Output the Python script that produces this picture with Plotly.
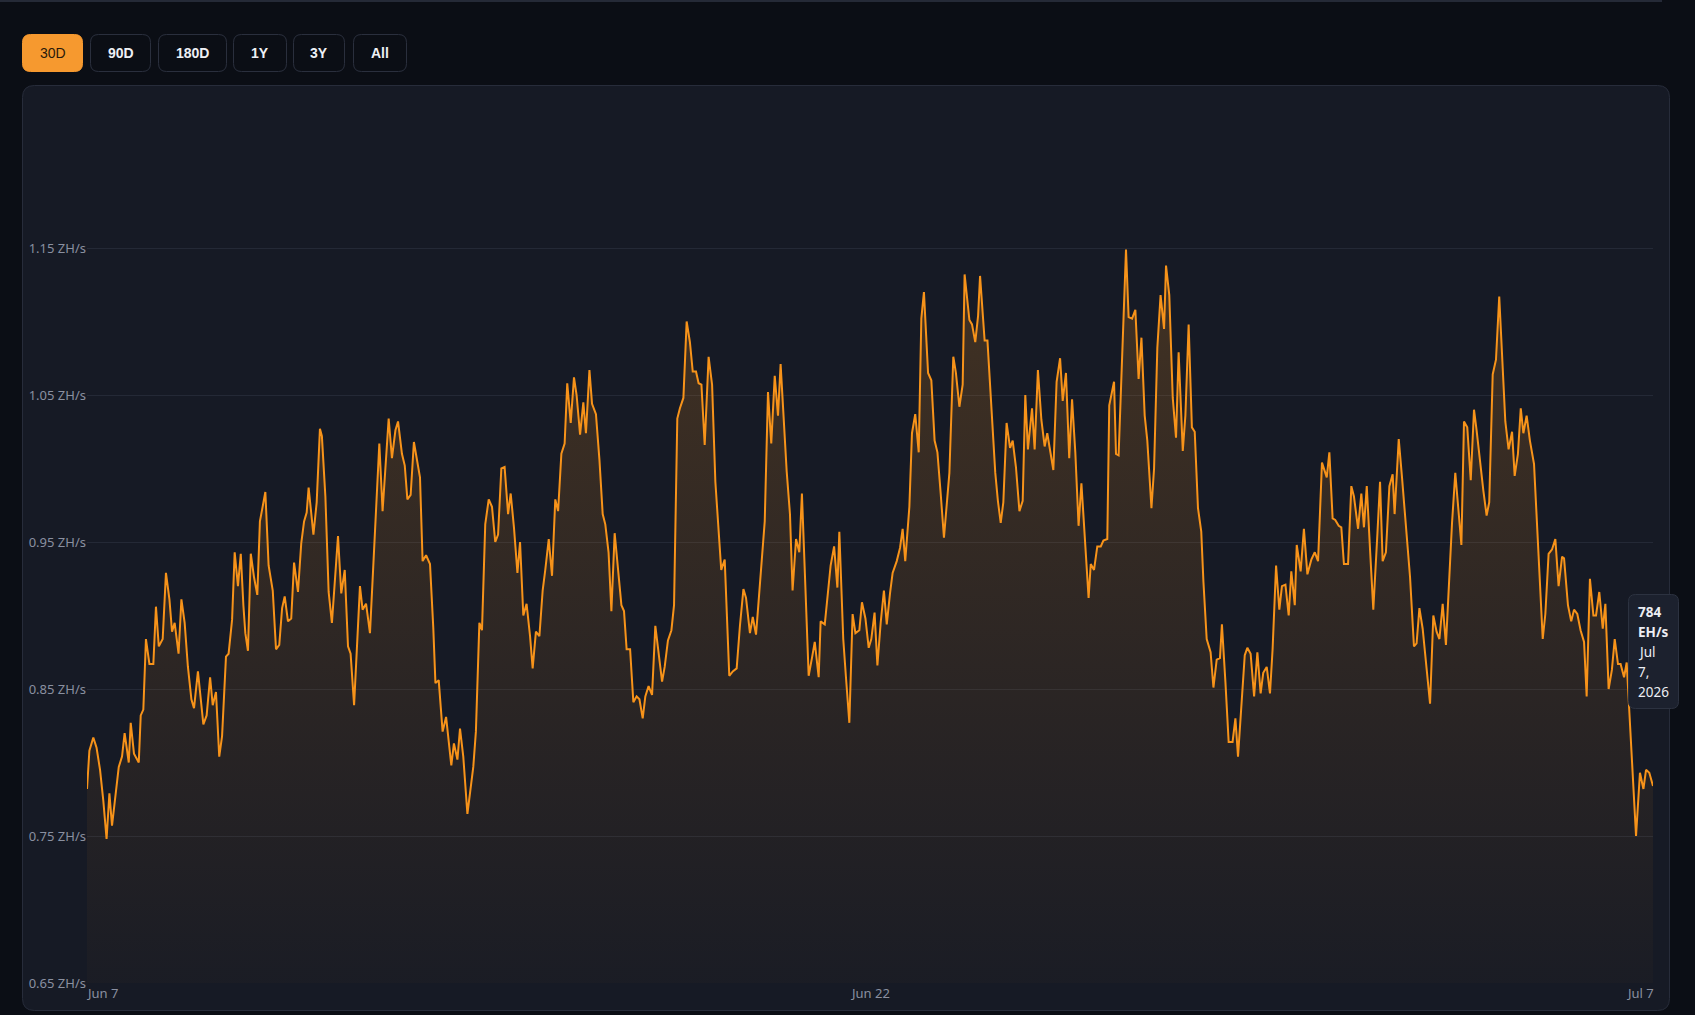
import plotly.graph_objects as go
import pandas as pd

# ---------------- data ----------------
START_DATE = "2026-06-07"

hours_since_start = [
    0.0, 1.1, 2.9, 4.4, 6.0, 7.5, 9.0, 10.3, 11.5, 13.0,
    14.6, 16.1, 17.3, 19.2, 20.1, 21.6, 23.8, 24.7, 25.9, 27.1,
    28.7, 30.5, 31.7, 33.0, 34.8, 36.3, 37.9, 39.1, 40.3, 42.1,
    43.4, 44.9, 46.4, 48.0, 49.2, 51.0, 53.5, 55.0, 56.6, 57.8,
    59.3, 60.8, 62.1, 63.9, 65.1, 66.7, 67.9, 69.4, 70.7, 71.9,
    72.8, 74.0, 75.3, 76.8, 78.3, 79.5, 80.8, 82.0, 83.5, 85.4,
    86.9, 88.4, 89.7, 90.9, 92.4, 93.9, 95.2, 97.0, 98.5, 99.8,
    101.0, 101.9, 104.1, 105.6, 107.1, 108.0, 109.6, 111.1, 112.6, 113.9,
    115.4, 116.9, 118.5, 120.0, 121.2, 122.8, 124.3, 125.5, 126.7, 128.3,
    130.1, 131.7, 133.2, 134.4, 135.9, 138.7, 140.2, 141.8, 143.0, 144.8,
    146.1, 147.3, 148.8, 150.3, 153.1, 154.3, 155.9, 157.7, 159.2, 160.2,
    161.7, 163.5, 165.1, 167.5, 168.7, 170.3, 171.5, 173.0, 174.9,
    177.6, 178.8, 180.4, 181.6, 183.1, 184.7, 186.2, 187.7, 189.0, 190.5,
    192.0, 193.6, 194.8, 196.3, 197.9, 199.1, 200.6, 202.1, 203.7, 204.9,
    206.4, 208.0, 209.5, 210.7, 212.3, 213.8, 215.3, 216.6, 218.1, 219.6,
    220.8, 222.4, 223.9, 225.1, 226.7, 228.2, 229.4, 231.0, 232.2, 234.0,
    235.6, 237.1, 238.3, 239.8, 241.1, 242.6, 244.1, 245.7, 246.9, 248.1,
    249.7, 251.2, 252.7, 254.0, 255.5, 256.7, 258.2, 259.8, 261.3, 262.8,
    264.4, 265.6, 267.1, 268.7, 269.9, 271.4, 272.6, 274.2, 275.7, 277.2,
    278.5, 280.0, 281.2, 282.5, 284.0, 285.8, 287.4, 288.9, 290.4, 291.6,
    293.2, 295.3, 296.9, 298.7, 300.2, 301.8, 303.0, 304.8, 306.1, 307.6,
    308.8, 310.4, 311.6, 313.1, 314.6, 316.2, 317.7, 318.9, 320.5, 321.7,
    323.2, 324.4, 326.0, 327.5, 328.7, 330.3, 331.8, 333.3, 334.6, 336.4,
    337.3, 339.2, 340.7, 341.9, 343.5, 345.0, 345.9, 347.7, 349.0, 350.5,
    352.0, 353.3, 355.1, 356.3, 357.9, 359.4, 360.6, 362.1, 363.4, 364.9,
    366.4, 367.7, 369.2, 370.4, 372.3, 373.8, 375.0, 376.2, 378.1, 379.3,
    380.8, 382.4, 383.6, 384.8, 386.7, 388.2, 389.7, 391.0, 392.5, 394.0,
    396.5, 398.3, 399.5, 401.1, 402.6, 403.5, 405.7, 406.9, 408.4, 409.7,
    410.6, 412.7, 414.0, 415.2, 417.6, 418.8, 420.1, 421.3, 422.8,
    424.4, 425.6, 427.1, 428.7, 430.2, 431.4, 432.6, 434.5, 435.7, 437.2,
    438.8, 440.3, 441.5, 442.5,
    444.3, 445.8, 447.4, 448.6, 450.1, 451.6, 452.9, 454.4, 455.9, 457.2,
    460.5, 461.5, 463.0, 464.5, 466.1, 467.3, 469.1, 470.0, 472.2, 473.1,
    474.3, 477.7, 478.9, 480.5, 482.0, 483.5, 484.8, 486.3, 487.5, 489.4,
    490.6, 492.1, 493.6, 495.2, 496.1, 497.6, 499.2, 500.7, 501.9, 503.8,
    505.0, 506.5, 508.0, 509.3, 510.8, 512.3, 513.3, 514.8, 516.6, 517.9,
    519.4, 520.9, 521.8, 523.4, 524.9,
    526.7, 528.0, 529.2, 530.7, 532.3, 533.5, 535.0, 536.6, 538.1, 539.6,
    540.8, 542.4, 543.9, 545.1, 546.7, 548.2, 549.4, 551.0, 552.5, 553.7,
    555.3, 556.2, 558.0, 559.5, 561.1, 562.9, 564.5, 566.0, 567.8, 570.0,
    571.2, 572.7, 573.9, 575.5, 576.7, 577.9, 579.8, 581.3, 582.5, 584.4,
    585.9, 587.1, 588.4, 589.9, 591.4, 593.3, 594.5, 595.7, 597.2, 598.8,
    600.3, 601.2, 603.1, 604.6, 606.4, 608.3, 610.1, 611.3, 612.6, 614.1,
    615.9, 617.5,
    619.0, 620.5, 621.8, 623.3, 624.8, 626.4, 627.6, 629.1, 630.7, 631.9,
    633.1, 634.6, 636.2, 637.7, 638.9, 640.5, 642.0, 643.5, 644.7, 646.3,
    647.8, 649.3, 650.9, 652.1, 653.6, 655.2, 656.4, 657.9, 659.2, 660.4,
    661.9, 663.4, 665.3, 666.5, 668.0, 669.3, 670.5, 672.0, 673.6, 675.1,
    676.6, 678.2, 679.1, 680.9, 682.4, 683.7, 685.2, 686.7, 688.3, 689.5,
    691.0, 692.6, 693.8, 695.3, 696.9, 698.1, 699.6, 701.1, 702.4, 703.9,
    705.1, 706.7, 707.9, 712.2, 714.0, 715.6, 716.8, 718.3, 720.0,
]

hashrate_eh = [
    782, 808, 817, 810, 795, 774, 748, 779, 757, 777,
    797, 804, 820, 800, 827, 806, 800, 832, 836, 884,
    867, 867, 906, 879, 884, 929, 911, 889, 895, 874,
    911, 895, 865, 843, 837, 862, 826, 832, 858, 839,
    848, 804, 818, 872, 874, 897, 943, 920, 942, 907,
    888, 876, 942, 926, 914, 964, 976, 984, 934, 917,
    877, 880, 905, 913, 896, 898, 936, 916, 949, 964,
    970, 987, 955, 977, 1027, 1022, 981, 916, 895, 920,
    954, 915, 931, 879, 874, 839, 879, 920, 904, 908,
    888, 938, 988, 1017, 971, 1034, 1007, 1026, 1032, 1010,
    1002, 979, 982, 1018, 994, 937, 941, 935, 892, 854,
    856, 821, 831, 798, 813, 802, 823, 804, 765,
    797, 821, 895, 890, 962, 979, 974, 950, 955, 1000,
    1001, 969, 983, 960, 929, 950, 900, 908, 886, 864,
    889, 886, 917, 931, 952, 927, 979, 971, 1010, 1017,
    1058, 1031, 1062, 1050, 1023, 1045, 1024, 1067, 1044, 1037,
    1006, 969, 962, 943, 903, 956, 931, 907, 903, 877,
    877, 841, 845, 843, 830, 845, 852, 846, 893, 874,
    855, 865, 883, 890, 907, 1034, 1041, 1048, 1100, 1086,
    1066, 1066, 1058, 1057, 1016, 1076, 1057, 991, 957, 931,
    938, 859, 862, 864, 893, 918, 912, 888, 899, 887,
    910, 938, 964, 1052, 1017, 1063, 1036, 1071, 1025, 998,
    969, 917, 952, 943, 983, 914, 859, 871, 882, 858,
    896, 894, 915, 934, 947, 919, 957, 884, 857, 827,
    901, 888, 890, 909, 898, 878, 884, 902, 866, 895,
    917, 894, 915, 929, 937, 946, 959, 937, 974, 1024,
    1037, 1011, 1102, 1120, 1065, 1060, 1019, 1011, 983, 953,
    997, 1076, 1065, 1042, 1057, 1132, 1101, 1098, 1086, 1104,
    1131, 1087, 1087, 1056, 997, 978, 963, 977, 1031,
    1014, 1019, 1001, 971, 978, 1050, 1013, 1041, 1013, 1067,
    1033, 1015, 1024, 1016,
    999, 1059, 1075, 1046, 1065, 1007, 1047, 1011, 961, 990,
    912, 935, 931, 947, 947, 951, 952, 1043, 1059, 1010,
    1009, 1149, 1103, 1102, 1108, 1061, 1089, 1036, 1019, 973,
    1000, 1082, 1118, 1095, 1138, 1118, 1048, 1021, 1079, 1012,
    1036, 1098, 1028, 1025, 973, 957, 923, 884, 875, 851,
    870, 871, 894, 855, 814,
    814, 830, 804, 840, 873, 878, 874, 845, 875, 847,
    861, 865, 847, 877, 934, 904, 920, 921, 900, 930,
    907, 948, 930, 959, 928, 938, 943, 937, 1004, 994,
    1011, 966, 965, 961, 960, 935, 935, 988, 981, 959,
    983, 960, 988, 945, 904, 956, 991, 937, 943, 988,
    996, 969, 1020, 994, 958, 926, 879, 881, 905, 891,
    864, 840,
    900, 889, 884, 908, 880, 931, 963, 997, 972, 948,
    1032, 1028, 992, 1040, 1026, 1003, 985, 968, 977, 1064,
    1074, 1117, 1069, 1032, 1013, 1025, 995, 1010, 1041, 1024,
    1036, 1019, 1003, 965, 924, 884, 901, 942, 945, 952,
    920, 940, 939, 907, 896, 904, 901, 890, 882, 845,
    925, 900, 900, 916, 891, 908, 850, 863, 884, 867,
    867, 858, 868, 750, 793, 782, 795, 793, 784,
]

y_ticks_zh = [0.65, 0.75, 0.85, 0.95, 1.05, 1.15]
x_tick_dates = ["2026-06-07", "2026-06-22", "2026-07-07"]
x_tick_labels = ["Jun 7", "Jun 22", "Jul 7"]
range_labels = ["30D", "90D", "180D", "1Y", "3Y", "All"]
active_range = "30D"

# ---------------- derived series ----------------
times = pd.Timestamp(START_DATE) + pd.to_timedelta(hours_since_start, unit="h")
hashrate_zh = [v / 1000.0 for v in hashrate_eh]

# ---------------- geometry helpers (pixels -> paper) ----------------
W, H = 1695, 1015
L, R, T, B = 87, 1653, 101, 983
PW, PH = R - L, B - T

ORANGE = "#f7931a"
TEXT_MUTED = "#8a90a0"
FONT = "Noto Sans, Open Sans, sans-serif"


def fx(px):
    return (px - L) / PW


def fy(py):
    return (B - py) / PH


def rrect(x0, y0, x1, y1, r):
    return (
        f"M{fx(x0 + r)},{fy(y0)} L{fx(x1 - r)},{fy(y0)} "
        f"Q{fx(x1)},{fy(y0)} {fx(x1)},{fy(y0 + r)} "
        f"L{fx(x1)},{fy(y1 - r)} Q{fx(x1)},{fy(y1)} {fx(x1 - r)},{fy(y1)} "
        f"L{fx(x0 + r)},{fy(y1)} Q{fx(x0)},{fy(y1)} {fx(x0)},{fy(y1 - r)} "
        f"L{fx(x0)},{fy(y0 + r)} Q{fx(x0)},{fy(y0)} {fx(x0 + r)},{fy(y0)} Z"
    )


fig = go.Figure()
fig.add_trace(
    go.Scatter(
        x=times,
        y=hashrate_zh,
        mode="lines",
        line=dict(color=ORANGE, width=2),
        fill="tozeroy",
        fillgradient=dict(
            type="vertical",
            colorscale=[[0, "rgba(247,147,26,0.02)"], [1, "rgba(247,147,26,0.20)"]],
            start=0.65,
            stop=1.15,
        ),
        hoverinfo="skip",
    )
)

shapes = []
# thin strip at the very top of the page
shapes.append(dict(type="rect", xref="paper", yref="paper",
                   x0=fx(0), x1=fx(1662), y0=fy(2), y1=fy(0),
                   fillcolor="#252a37", line=dict(width=0), layer="below"))
# chart card
shapes.append(dict(type="path", xref="paper", yref="paper",
                   path=rrect(22.5, 85.5, 1669.5, 1010.5, 12),
                   fillcolor="#161a25", line=dict(color="#272c3a", width=1), layer="below"))

annotations = []
# range buttons
btn_x = [(22, 83), (90, 151), (158, 227), (233, 287), (293, 345), (353, 407)]
for (bx0, bx1), lab in zip(btn_x, range_labels):
    active = lab == active_range
    shapes.append(dict(type="path", xref="paper", yref="paper",
                       path=rrect(bx0 + 0.5, 34.5, bx1 - 0.5, 71.5, 8),
                       fillcolor="#f6992f" if active else "rgba(0,0,0,0)",
                       line=dict(color="#f6992f" if active else "#2a2f3d", width=1),
                       layer="above"))
    annotations.append(dict(xref="paper", yref="paper", x=fx((bx0 + bx1) / 2), y=fy(53),
                            text=lab if active else f"<b>{lab}</b>", showarrow=False,
                            xanchor="center", yanchor="middle",
                            font=dict(family="Liberation Sans, Arial, sans-serif", size=14,
                                      color="#2a1a0a" if active else "#eef0f5")))

# x tick labels (first left-aligned, middle centred, last right-aligned)
for d, lab, anchor, shift in zip(x_tick_dates, x_tick_labels,
                                 ["left", "center", "right"], [-3, 0, 3]):
    annotations.append(dict(xref="x", yref="paper", x=d, y=fy(993), text=lab,
                            showarrow=False, xanchor=anchor, yanchor="middle", xshift=shift,
                            font=dict(family=FONT, size=13, color=TEXT_MUTED)))

# tooltip for last point
shapes.append(dict(type="path", xref="paper", yref="paper",
                   path=rrect(1628.5, 594.5, 1678.5, 708.5, 7),
                   fillcolor="#1c212e", line=dict(color="#2c3240", width=1), layer="above"))
last_t = times[-1]
tip_lines = [
    f"<b>{hashrate_eh[-1]:.0f}</b>",
    "<b>EH/s</b>",
    last_t.strftime("%b"),
    f"{last_t.day},",
    f"{last_t.year}",
]
for i, line_txt in enumerate(tip_lines):
    annotations.append(dict(xref="paper", yref="paper", x=fx(1636), y=fy(612 + 20 * i),
                            text=line_txt, showarrow=False, xanchor="left", yanchor="middle",
                            font=dict(family=FONT, size=13.5, color="#eceef3")))

fig.update_layout(
    width=W,
    height=H,
    margin=dict(l=L, r=W - R, t=T, b=H - B, pad=0),
    paper_bgcolor="#0b0e15",
    plot_bgcolor="rgba(0,0,0,0)",
    showlegend=False,
    hovermode=False,
    shapes=shapes,
    annotations=annotations,
    xaxis=dict(
        type="date",
        range=[x_tick_dates[0], x_tick_dates[-1]],
        showgrid=False,
        zeroline=False,
        showline=False,
        showticklabels=False,
        ticks="",
        fixedrange=True,
    ),
    yaxis=dict(
        range=[0.65, 1.25],
        tickvals=y_ticks_zh,
        ticktext=[f"{v:.2f} ZH/s" for v in y_ticks_zh],
        showgrid=True,
        gridcolor="#242936",
        gridwidth=1,
        zeroline=False,
        showline=False,
        ticks="",
        tickfont=dict(family=FONT, size=13, color=TEXT_MUTED),
        fixedrange=True,
    ),
)

fig.write_html("out.html", config={"displayModeBar": False},
               post_script="document.body.style.margin='0';")
